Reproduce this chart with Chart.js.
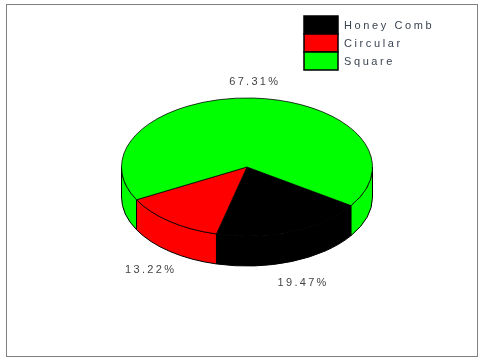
<!DOCTYPE html>
<html>
<head>
<meta charset="utf-8">
<script src="https://cdn.jsdelivr.net/npm/chart.js@4"></script>
<style>
  html, body { margin: 0; padding: 0; background: #fff; }
  #wrap { position: relative; width: 481px; height: 362px; }
  #frame { position: absolute; left: 6px; top: 4px; width: 470px; height: 351px; border: 1px solid #808080; pointer-events: none; }
  canvas { position: absolute; left: 0; top: 0; }
</style>
</head>
<body>
<div id="wrap">
  <canvas id="pieChart" width="481" height="362"></canvas>
  <div id="frame"></div>
</div>
<script>
const labels = ["Honey Comb", "Circular", "Square"]
const percentages = [19.47, 13.22, 67.31]
const colors = ["#000000", "#ff0000", "#00ff00"]

// look of the fake 3d pie
const tilt = 0.55
const depth = 30

// parts of a slice that face the viewer (lower half of the ellipse)
function frontRanges(s, e)
{
    const out = []
    for(let k = -1; k <= 1; k++)
    {
        const a = Math.max(s, 2 * Math.PI * k)
        const b = Math.min(e, 2 * Math.PI * k + Math.PI)
        if(b > a) out.push([a, b])
    }
    return out
}

const pie3d = {
    id: 'pie3d',
    beforeDatasetsDraw(chart)
    {
        const ctx = chart.ctx
        const arcs = chart.getDatasetMeta(0).data
        ctx.save()
        ctx.lineWidth = 1
        ctx.strokeStyle = "#000"
        arcs.forEach(arc =>
        {
            const {x, y, startAngle, endAngle, outerRadius} = arc
            frontRanges(startAngle, endAngle).forEach(([a, b]) =>
            {
                ctx.beginPath()
                ctx.ellipse(x, y, outerRadius, outerRadius * tilt, 0, a, b)
                ctx.ellipse(x, y + depth, outerRadius, outerRadius * tilt, 0, b, a, true)
                ctx.closePath()
                ctx.fillStyle = arc.options.backgroundColor
                ctx.fill()
                ctx.stroke()
            })
        })
        // squash the top face
        const {x, y} = arcs[0]
        ctx.translate(x, y)
        ctx.scale(1, tilt)
        ctx.translate(-x, -y)
    },
    afterDatasetsDraw(chart)
    {
        chart.ctx.restore()
    },
    afterDraw(chart)
    {
        const ctx = chart.ctx
        const arcs = chart.getDatasetMeta(0).data
        ctx.save()
        ctx.font = '11px "Liberation Sans", Arial, sans-serif'
        ctx.letterSpacing = "2.3px"
        ctx.fillStyle = "#444"
        ctx.textAlign = "center"
        ctx.textBaseline = "middle"
        arcs.forEach((arc, i) =>
        {
            const mid = (arc.startAngle + arc.endAngle) / 2
            const r = arc.outerRadius * 1.25
            const s = Math.sin(mid)
            const lx = arc.x + r * Math.cos(mid)
            const ly = arc.y + r * tilt * s + (s > 0 ? depth + 5 : 1)
            ctx.fillText(percentages[i].toFixed(2) + "%", lx, ly)
        })

        // legend box top right
        const left = 304, top = 16, bw = 34, bh = 18
        ctx.textAlign = "left"
        ctx.letterSpacing = "2.6px"
        labels.forEach((name, i) =>
        {
            const ty = top + i * bh
            ctx.fillStyle = colors[i]
            ctx.fillRect(left, ty, bw, bh)
            ctx.strokeStyle = "#000"
            ctx.lineWidth = 1.5
            ctx.strokeRect(left, ty, bw, bh)
            ctx.fillStyle = "#3a4450"
            ctx.fillText(name, left + bw + 6, ty + bh / 2 + 1)
        })
        ctx.restore()
    }
}

const ctx = document.getElementById("pieChart")
const myChart = new Chart(ctx, {
    type: 'pie',
    data: {
        labels: labels,
        datasets: [{
            data: percentages,
            backgroundColor: colors,
            borderColor: "#000",
            borderWidth: 1,
            clip: false,
        }]
    },
    options: {
        responsive: false,
        animation: false,
        events: [],
        rotation: 124,
        layout: {
            padding: {left: 121, right: 108, top: 41, bottom: 69}
        },
        plugins: {
            legend: {display: false},
            tooltip: {enabled: false},
        }
    },
    plugins: [pie3d]
})
</script>
</body>
</html>
